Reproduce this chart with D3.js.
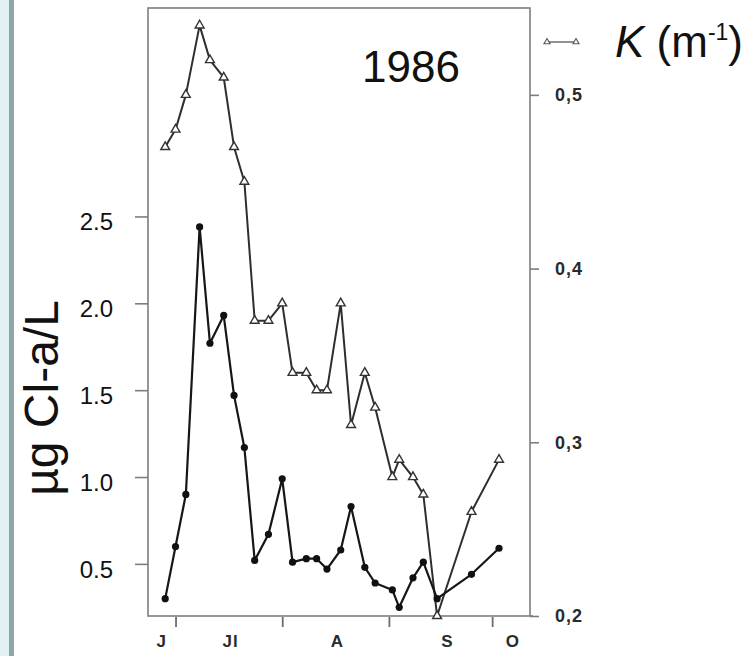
<!DOCTYPE html>
<html>
<head>
<meta charset="utf-8">
<script src="https://cdn.jsdelivr.net/npm/d3@7"></script>
<style>
  html, body { margin: 0; padding: 0; background: #fff; }
  svg { display: block; }
  text { font-family: "Liberation Sans", Arial, sans-serif; }
</style>
</head>
<body>
<svg id="chart" width="751" height="656"></svg>
<script>
// ---- data ----
const sampleDates = ["1986-06-28","1986-07-01","1986-07-04","1986-07-08","1986-07-11","1986-07-15",
  "1986-07-18","1986-07-21","1986-07-24","1986-07-28","1986-08-01","1986-08-04","1986-08-08",
  "1986-08-11","1986-08-14","1986-08-18","1986-08-21","1986-08-25","1986-08-28","1986-09-02",
  "1986-09-04","1986-09-08","1986-09-11","1986-09-15","1986-09-25","1986-10-03"];
const chlValues = [0.30, 0.60, 0.90, 2.44, 1.77, 1.93, 1.47, 1.17, 0.52, 0.67, 0.99, 0.51, 0.53,
  0.53, 0.47, 0.58, 0.83, 0.48, 0.39, 0.35, 0.25, 0.42, 0.51, 0.30, 0.44, 0.59];
const kValues = [0.47, 0.48, 0.50, 0.54, 0.52, 0.51, 0.47, 0.45, 0.37, 0.37, 0.38, 0.34, 0.34,
  0.33, 0.33, 0.38, 0.31, 0.34, 0.32, 0.28, 0.29, 0.28, 0.27, 0.20, 0.26, 0.29];
const leftTicks = [0.5, 1.0, 1.5, 2.0, 2.5];
const rightTicks = [0.2, 0.3, 0.4, 0.5];
const monthStarts = ["1986-07-01","1986-08-01","1986-09-01","1986-10-01"];
const monthLabels = ["J","Jl","A","S","O"];
const monthLabelDates = ["1986-06-27","1986-07-17","1986-08-17","1986-09-18","1986-10-07"];
const yearLabel = "1986";
const yTitle = "µg Cl-a/L";

// ---- layout ----
const parse = d3.utcParse("%Y-%m-%d");
const svg = d3.select("#chart");
const L = 148, R = 530, T = 8, B = 616;

// left page decoration strip
svg.append("rect").attr("x", 0).attr("y", 0).attr("width", 9).attr("height", 656).attr("fill", "#e2f1f3");
svg.append("rect").attr("x", 9).attr("y", 0).attr("width", 5).attr("height", 656).attr("fill", "#8fa6ab");

const x = d3.scaleUtc().domain([parse("1986-06-23"), parse("1986-10-12")]).range([L, R]);
const yL = d3.scaleLinear().domain([0.2, 3.7]).range([B, T]);
const yR = d3.scaleLinear().domain([0.2, 0.55]).range([B, T]);

const data = sampleDates.map((d, i) => ({ date: parse(d), chl: chlValues[i], k: kValues[i] }));

// frame
svg.append("rect").attr("x", L).attr("y", T).attr("width", R - L).attr("height", B - T)
  .attr("fill", "none").attr("stroke", "#7d7d7d").attr("stroke-width", 1.6);
svg.append("line").attr("x1", R).attr("x2", R + 3).attr("y1", B).attr("y2", B)
  .attr("stroke", "#7d7d7d").attr("stroke-width", 1.6);

// left axis
const gL = svg.append("g").attr("transform", `translate(${L},0)`)
  .call(d3.axisLeft(yL).tickValues(leftTicks).tickFormat(d3.format(".1f")).tickSize(13).tickPadding(22));
gL.select(".domain").remove();
gL.selectAll(".tick line").attr("stroke", "#7d7d7d").attr("stroke-width", 1.6);
gL.selectAll(".tick text").attr("font-size", 24).attr("fill", "#111").attr("dy", "0.55em")
  .style("font-family", "'Liberation Sans', Arial, sans-serif");

// right axis
const commaFmt = d => d3.format(".1f")(d).replace(".", ",");
const gR = svg.append("g").attr("transform", `translate(${R},0)`)
  .call(d3.axisRight(yR).tickValues(rightTicks).tickFormat(commaFmt).tickSize(9).tickPadding(16));
gR.select(".domain").remove();
gR.selectAll(".tick line").attr("stroke", "#7d7d7d").attr("stroke-width", 1.6);
gR.selectAll(".tick text").attr("font-size", 18).attr("font-weight", "bold").attr("fill", "#2a2a2a")
  .attr("letter-spacing", "1px").style("font-family", "'Liberation Sans', Arial, sans-serif");

// bottom axis (month boundaries)
const gB = svg.append("g").attr("transform", `translate(0,${B + 1})`)
  .call(d3.axisBottom(x).tickValues(monthStarts.map(parse)).tickFormat("").tickSize(10));
gB.select(".domain").remove();
gB.selectAll(".tick line").attr("stroke", "#6d6d6d").attr("stroke-width", 1.8);

svg.append("g").selectAll("text").data(monthLabels).join("text")
  .attr("x", (d, i) => x(parse(monthLabelDates[i])))
  .attr("y", 647)
  .attr("text-anchor", "middle")
  .attr("font-size", 17).attr("font-weight", "bold").attr("fill", "#2a2a2a")
  .attr("letter-spacing", "1px")
  .text(d => d);

// y title
svg.append("text")
  .attr("transform", "translate(58,398) rotate(-90)")
  .attr("text-anchor", "middle")
  .attr("font-size", 48).attr("fill", "#111")
  .text(yTitle);

// year label
svg.append("text").attr("x", 460).attr("y", 82).attr("text-anchor", "end")
  .attr("font-size", 44).attr("fill", "#111").text(yearLabel);

// series lines
const lineChl = d3.line().x(d => x(d.date)).y(d => yL(d.chl));
const lineK = d3.line().x(d => x(d.date)).y(d => yR(d.k));

svg.append("path").datum(data).attr("d", lineK)
  .attr("fill", "none").attr("stroke", "#2e2e2e").attr("stroke-width", 2).attr("stroke-linejoin", "round");
svg.append("path").datum(data).attr("d", lineChl)
  .attr("fill", "none").attr("stroke", "#161616").attr("stroke-width", 2.2).attr("stroke-linejoin", "round");

// markers
const tri = d3.symbol().type(d3.symbolTriangle).size(34);
svg.append("g").selectAll("path").data(data).join("path")
  .attr("d", tri)
  .attr("transform", d => `translate(${x(d.date)},${yR(d.k)})`)
  .attr("fill", "#fff").attr("stroke", "#333").attr("stroke-width", 1.4);

svg.append("g").selectAll("circle").data(data).join("circle")
  .attr("cx", d => x(d.date)).attr("cy", d => yL(d.chl)).attr("r", 3.6)
  .attr("fill", "#111");

// legend
const lg = svg.append("g");
lg.append("line").attr("x1", 547).attr("x2", 576).attr("y1", 42).attr("y2", 42)
  .attr("stroke", "#555").attr("stroke-width", 1.3);
lg.selectAll("path").data([547, 576]).join("path")
  .attr("d", d3.symbol().type(d3.symbolTriangle).size(16))
  .attr("transform", d => `translate(${d},42)`)
  .attr("fill", "#fff").attr("stroke", "#555").attr("stroke-width", 1.1);

const lt = lg.append("text").attr("x", 615).attr("y", 57).attr("font-size", 44).attr("fill", "#111");
lt.append("tspan").attr("font-style", "italic").text("K");
lt.append("tspan").text(" (m");
lt.append("tspan").attr("font-size", 23).attr("dy", -17).text("-1");
lt.append("tspan").attr("dy", 17).text(")");
</script>
</body>
</html>
